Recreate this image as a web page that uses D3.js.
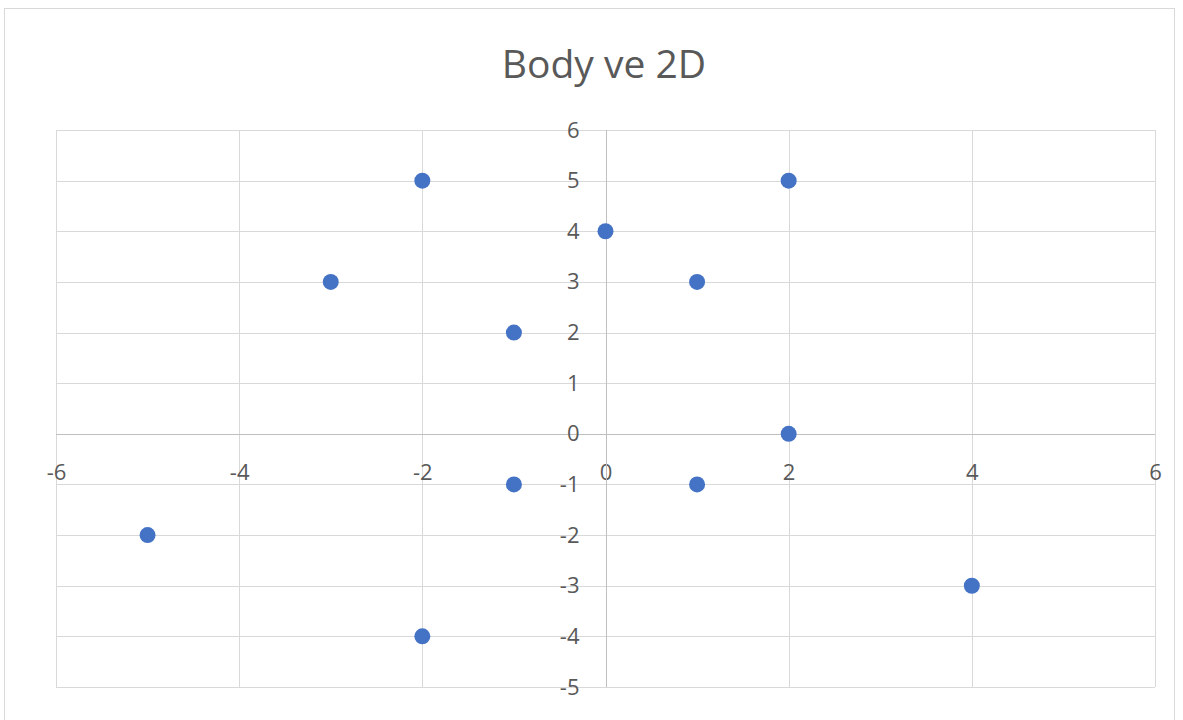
<!DOCTYPE html>
<html>
<head>
<meta charset="utf-8">
<script src="https://cdn.jsdelivr.net/npm/d3@7"></script>
<style>
  body { margin: 0; background: #fff; }
  svg { display: block; }
  .grid line { stroke: #d9d9d9; stroke-width: 1; }
  .axis path, .axis line { stroke: #bfbfbf; }
  .axis text { fill: #595959; font-family: "Open Sans", sans-serif; font-size: 22px; }
</style>
</head>
<body>
<script>
// chart data
const xValues = [-5, -3, -2, -2, -1, -1, 0, 1, 1, 2, 2, 4];
const yValues = [-2, 3, 5, -4, 2, -1, 4, 3, -1, 5, 0, -3];
const xTicks = [-6, -4, -2, 0, 2, 4, 6];
const yTicks = [-5, -4, -3, -2, -1, 0, 1, 2, 3, 4, 5, 6];
const chartTitle = "Body ve 2D";

const width = 1183, height = 720;
const plot = { left: 56, right: 1155, top: 130, bottom: 687 };

const points = xValues.map(function(x, i) { return { x: x, y: yValues[i] }; });

const svg = d3.select("body").append("svg")
    .attr("width", width)
    .attr("height", height);

// chart border
svg.append("rect")
    .attr("x", 4.5).attr("y", 8.5)
    .attr("width", 1170).attr("height", 720)
    .style("fill", "#fff")
    .style("stroke", "#d9d9d9");

var x = d3.scaleLinear().domain([-6, 6]).range([plot.left, plot.right]);
var y = d3.scaleLinear().domain([-5, 6]).range([plot.bottom, plot.top]);

// plain hyphen for negatives, like Excel
var fmt = function(d) { return String(d); };

// gridlines
var grid = svg.append("g").attr("class", "grid");
grid.selectAll(".vline")
    .data(xTicks)
    .enter().append("line")
    .attr("x1", function(d) { return Math.round(x(d)) + 0.5; })
    .attr("x2", function(d) { return Math.round(x(d)) + 0.5; })
    .attr("y1", plot.top).attr("y2", plot.bottom);
grid.selectAll(".hline")
    .data(yTicks)
    .enter().append("line")
    .attr("y1", function(d) { return Math.round(y(d)) + 0.5; })
    .attr("y2", function(d) { return Math.round(y(d)) + 0.5; })
    .attr("x1", plot.left).attr("x2", plot.right);

// x axis through y = 0
var xAxis = svg.append("g")
    .attr("class", "axis")
    .attr("transform", "translate(0," + (Math.round(y(0)) + 0.5) + ")")
    .call(d3.axisBottom(x).tickValues(xTicks).tickSize(0).tickPadding(30).tickFormat(fmt));
xAxis.select(".domain").attr("d", "M" + plot.left + ",0H" + plot.right);

// y axis through x = 0
var yAxis = svg.append("g")
    .attr("class", "axis")
    .attr("transform", "translate(" + (Math.round(x(0)) + 0.5) + ",0)")
    .call(d3.axisLeft(y).tickValues(yTicks).tickSize(0).tickPadding(27).tickFormat(fmt));
yAxis.select(".domain").attr("d", "M0," + plot.top + "V" + plot.bottom);

// points
svg.selectAll(".dot")
    .data(points)
    .enter().append("circle")
    .attr("class", "dot")
    .attr("cx", function(d) { return x(d.x); })
    .attr("cy", function(d) { return y(d.y); })
    .attr("r", 8)
    .style("fill", "#4472c4");

// title
svg.append("text")
    .attr("x", 604)
    .attr("y", 78)
    .attr("text-anchor", "middle")
    .style("font-family", "'Open Sans', sans-serif")
    .style("font-size", "39px")
    .style("fill", "#595959")
    .text(chartTitle);
</script>
</body>
</html>
